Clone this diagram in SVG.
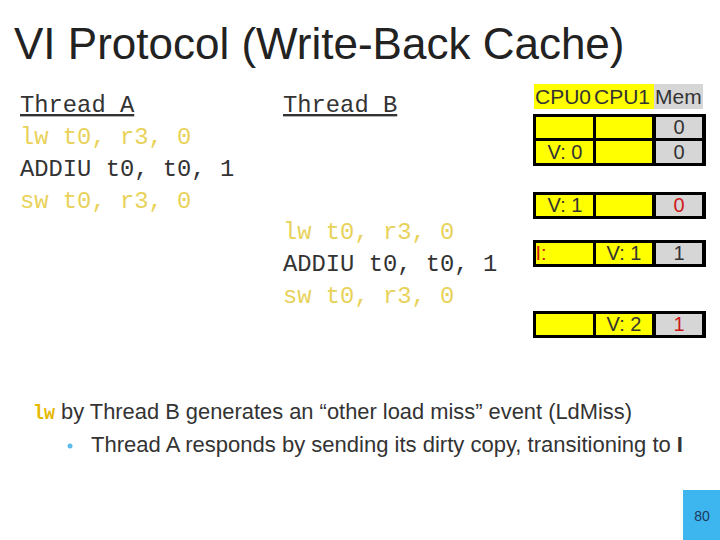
<svg xmlns="http://www.w3.org/2000/svg" width="720" height="540" viewBox="0 0 720 540">
<style>
.sans{font-family:"Liberation Sans",Arial,sans-serif;}
.mono{font-family:"Liberation Mono","Courier New",monospace;font-size:23.8px;}
.code{fill:#333;}
.hl{fill:#e8d25a;}
.cell{font-family:"Liberation Sans",Arial,sans-serif;font-size:20px;fill:#333;text-anchor:middle;}
.red{fill:#d01818;}
.y{fill:#ffff00;}
.g{fill:#d6d6d6;}
.hd{font-family:"Liberation Sans",Arial,sans-serif;font-size:21px;fill:#333;}
</style>
<rect width="720" height="540" fill="#fff"/>
<text class="sans" x="14" y="59" font-size="44" fill="#222">VI Protocol (Write-Back Cache)</text>

<g id="threadA">
<text class="mono code" x="20" y="112" text-decoration="underline">Thread A</text>
<text class="mono hl" x="20" y="144">lw t0, r3, 0</text>
<text class="mono code" x="20" y="176">ADDIU t0, t0, 1</text>
<text class="mono hl" x="20" y="208">sw t0, r3, 0</text>
</g>
<g id="threadB">
<text class="mono code" x="283" y="112" text-decoration="underline">Thread B</text>
<text class="mono hl" x="283" y="239">lw t0, r3, 0</text>
<text class="mono code" x="283" y="271">ADDIU t0, t0, 1</text>
<text class="mono hl" x="283" y="303">sw t0, r3, 0</text>
</g>

<g id="table">
<rect class="y" x="534" y="84" width="120" height="25"/>
<rect class="g" x="654" y="84" width="49" height="25"/>
<text class="hd" x="535" y="104">CPU0</text>
<text class="hd" x="594" y="104">CPU1</text>
<text class="hd" x="655" y="104">Mem</text>

<g id="row1">
<rect x="533" y="114" width="173" height="52" fill="#000"/>
<rect class="y" x="536" y="117" width="57" height="21"/>
<rect class="y" x="596" y="117" width="56" height="21"/>
<rect class="g" x="656" y="117" width="46" height="21"/>
<rect class="y" x="536" y="141" width="57" height="22"/>
<rect class="y" x="596" y="141" width="56" height="22"/>
<rect class="g" x="656" y="141" width="46" height="22"/>
<text class="cell" x="679" y="134">0</text>
<text class="cell" x="565" y="159">V: 0</text>
<text class="cell" x="679" y="159">0</text>
</g>
<g id="row2">
<rect x="533" y="192" width="173" height="27" fill="#000"/>
<rect class="y" x="536" y="195" width="57" height="21"/>
<rect class="y" x="596" y="195" width="56" height="21"/>
<rect class="g" x="656" y="195" width="46" height="21"/>
<text class="cell" x="565" y="212">V: 1</text>
<text class="cell red" x="679" y="212">0</text>
</g>
<g id="row3">
<rect x="533" y="240" width="173" height="27" fill="#000"/>
<rect class="y" x="536" y="243" width="57" height="21"/>
<rect class="y" x="596" y="243" width="56" height="21"/>
<rect class="g" x="656" y="243" width="46" height="21"/>
<text class="cell red" x="541" y="260" text-anchor="start">I:</text>
<text class="cell" x="624" y="260">V: 1</text>
<text class="cell" x="679" y="260">1</text>
</g>
<g id="row4">
<rect x="533" y="311" width="173" height="27" fill="#000"/>
<rect class="y" x="536" y="314" width="57" height="21"/>
<rect class="y" x="596" y="314" width="56" height="21"/>
<rect class="g" x="656" y="314" width="46" height="21"/>
<text class="cell" x="624" y="331">V: 2</text>
<text class="cell red" x="679" y="331">1</text>
</g>
</g>

<g id="notes">
<text x="33" y="419" font-family="Liberation Mono,monospace" font-weight="bold" font-size="20" fill="#e6b800" textLength="22" lengthAdjust="spacingAndGlyphs">lw</text>
<text class="sans" x="61" y="419" font-size="22" fill="#333" textLength="571" lengthAdjust="spacingAndGlyphs">by Thread B generates an “other load miss” event (LdMiss)</text>
<circle cx="70" cy="446" r="2.5" fill="#5bbde8"/>
<text class="sans" x="91" y="452" font-size="22" fill="#333" textLength="592" lengthAdjust="spacingAndGlyphs">Thread A responds by sending its dirty copy, transitioning to <tspan font-weight="bold">I</tspan></text>
</g>

<g id="page">
<rect x="683" y="490" width="37" height="50" fill="#3db5ee"/>
<text class="sans" x="702" y="521" font-size="14" fill="#1e3a5c" text-anchor="middle">80</text>
</g>
</svg>
